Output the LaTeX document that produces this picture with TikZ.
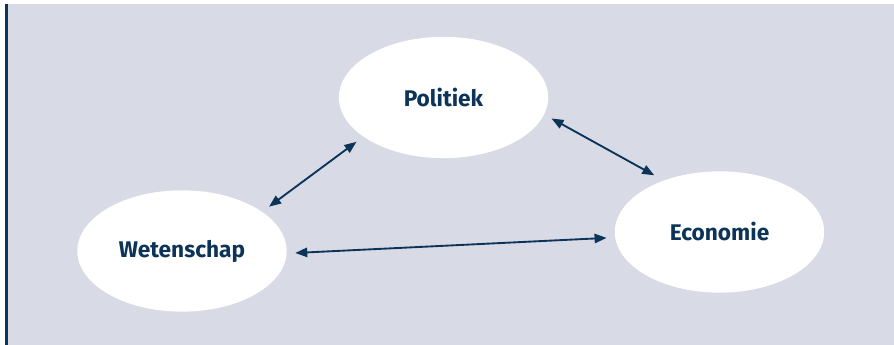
\documentclass[tikz,border=0pt]{standalone}
\usepackage{fontspec}
\setmainfont{Fira Sans}
\usetikzlibrary{shapes.geometric,arrows.meta}

\definecolor{navy}{RGB}{12,52,88}
\definecolor{panel}{RGB}{216,218,229}

\tikzset{
	topic/.style={ellipse, fill=white, minimum width=157pt, minimum height=91pt,
		inner sep=0pt, outer sep=6.5pt, text=navy, font=\bfseries\fontsize{17}{20}\selectfont},
	link/.style={navy, line width=1.4pt, {Triangle[length=9pt,width=7pt]}-{Triangle[length=9pt,width=7pt]}}
}

\begin{document}
\begin{tikzpicture}[x=0.75pt,y=0.75pt]
			\useasboundingbox (0,0) rectangle (894,345);

			% panel and bar
			\fill [panel] (8,0) rectangle (894,341);
			\draw [navy, line width=1.9pt] (6.3,0) -- (6.3,341);

			% the three fields
			\node[topic] (pol) at (443.5,247.5) {Politiek};
			\node[topic] (wet) at (182,94) {Wetenschap};
			\node[topic] (eco) at (719.5,113) {Economie};

			% links
			\draw [link] (wet.27) -- (pol.207);
			\draw [link] (pol.349) -- (eco.139);
			\draw [link] (wet.359) -- (eco.183);

		\end{tikzpicture}
\end{document}
